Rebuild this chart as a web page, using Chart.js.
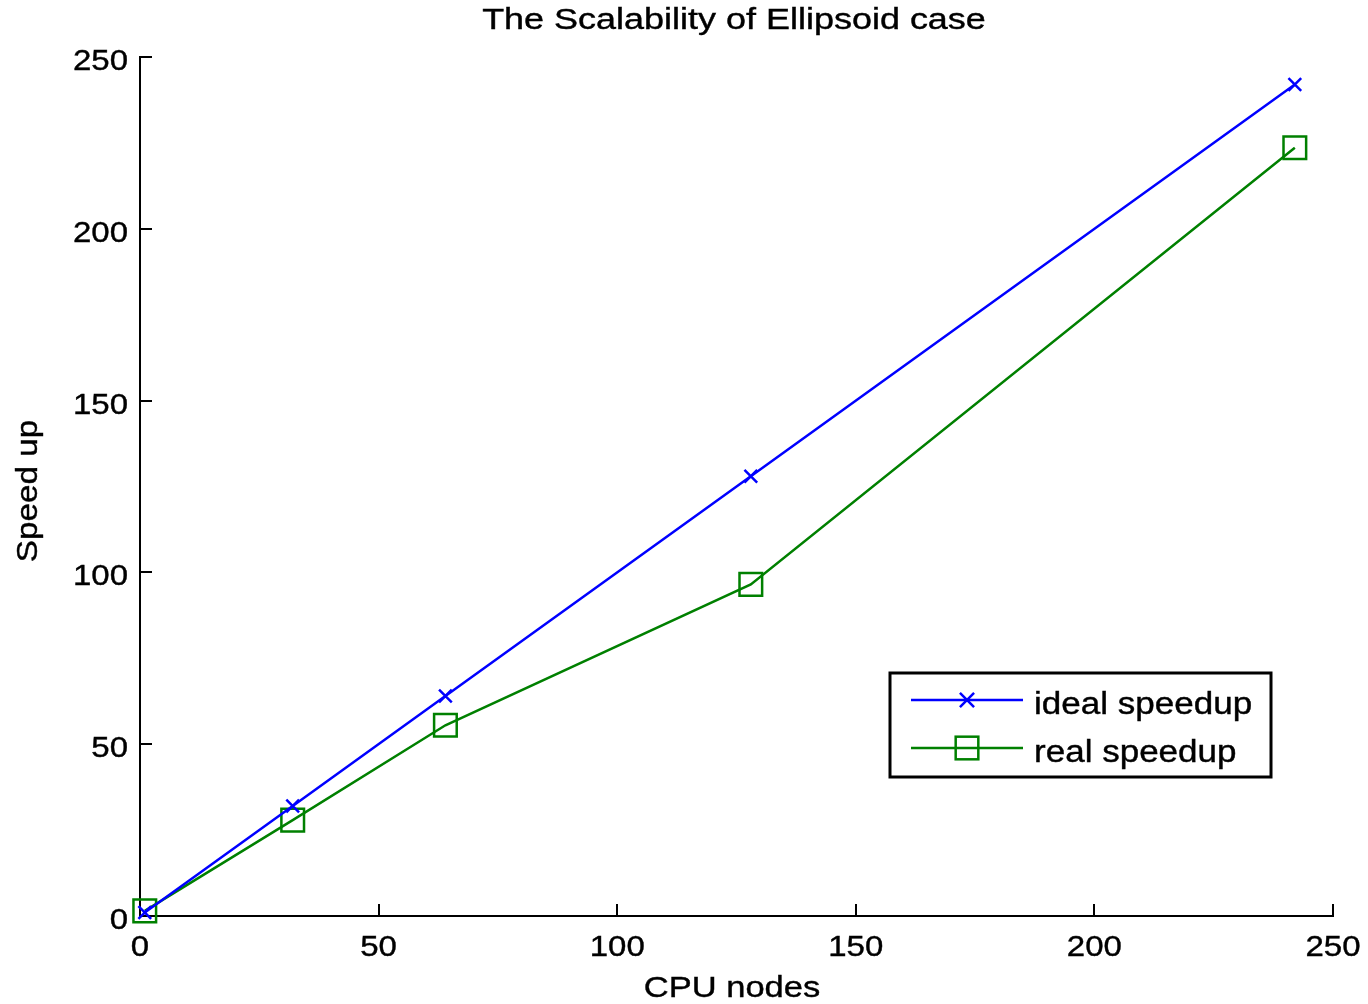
<!DOCTYPE html>
<html>
<head>
<meta charset="utf-8">
<title>The Scalability of Ellipsoid case</title>
<script src="https://cdn.jsdelivr.net/npm/chart.js@4/dist/chart.umd.min.js"></script>
<style>
  html, body { margin: 0; padding: 0; background: #fff; }
  #wrap { width: 1368px; height: 1004px; position: relative; }
</style>
</head>
<body>
<div id="wrap"><canvas id="chart"></canvas></div>
<script>
// Number of CPU nodes used in each run
const cpuNodes = [1, 32, 64, 128, 242];
// Ideal (linear) speedup for those node counts
const idealSpeedup = [1, 32, 64, 128, 242];
// Measured speedup
const realSpeedup = [1.5, 27.9, 55.5, 96.5, 223.6];
// Axis tick values
const xTicks = [0, 50, 100, 150, 200, 250];
const yTicks = [0, 50, 100, 150, 200, 250];

const seriesNames = ['ideal speedup', 'real speedup'];
const BLUE = '#0000ff';
const GREEN = '#008000';
const FONT = '"Liberation Sans", Arial, Helvetica, sans-serif';

function pairs(xs, ys) {
  return xs.map((x, i) => ({ x: x, y: ys[i] }));
}

function drawText(ctx, text, x, y, o) {
  ctx.save();
  ctx.translate(x, y);
  if (o.rotate) ctx.rotate(o.rotate);
  ctx.scale(o.sx || 1, 1);
  ctx.font = o.size + 'px ' + FONT;
  ctx.textAlign = o.align || 'center';
  ctx.textBaseline = 'alphabetic';
  ctx.fillStyle = '#000';
  ctx.strokeStyle = '#000';
  ctx.lineWidth = 0.4;
  ctx.fillText(text, 0, 0);
  ctx.strokeText(text, 0, 0);
  ctx.restore();
}

function drawCross(ctx, x, y, r, color) {
  const d = Math.SQRT1_2 * r;
  ctx.save();
  ctx.strokeStyle = color;
  ctx.lineWidth = 2.5;
  ctx.beginPath();
  ctx.moveTo(x - d, y - d); ctx.lineTo(x + d, y + d);
  ctx.moveTo(x + d, y - d); ctx.lineTo(x - d, y + d);
  ctx.stroke();
  ctx.restore();
}

function drawSquare(ctx, x, y, r, color) {
  const s = Math.SQRT1_2 * r;
  ctx.save();
  ctx.strokeStyle = color;
  ctx.lineWidth = 2.5;
  ctx.strokeRect(x - s, y - s, 2 * s, 2 * s);
  ctx.restore();
}

// Inward tick marks, tick labels, titles and the boxed legend
const decorations = {
  id: 'decorations',
  beforeDatasetsDraw(chart) {
    const ctx = chart.ctx;
    const a = chart.chartArea;
    const xs = chart.scales.x, ys = chart.scales.y;
    ctx.save();
    ctx.strokeStyle = '#000';
    ctx.lineWidth = 2;
    ctx.beginPath();
    xTicks.forEach(v => {
      const px = Math.round(xs.getPixelForValue(v));
      ctx.moveTo(px, a.bottom); ctx.lineTo(px, a.bottom - 12);
    });
    yTicks.forEach(v => {
      const py = Math.round(ys.getPixelForValue(v));
      ctx.moveTo(a.left, py); ctx.lineTo(a.left + 12, py);
    });
    ctx.stroke();
    ctx.restore();
  },
  afterDraw(chart) {
    const ctx = chart.ctx;
    const a = chart.chartArea;
    const xs = chart.scales.x, ys = chart.scales.y;

    xTicks.forEach(v => {
      drawText(ctx, String(v), xs.getPixelForValue(v), a.bottom + 40, { size: 30, sx: 1.1 });
    });
    yTicks.forEach(v => {
      drawText(ctx, String(v), a.left - 12, ys.getPixelForValue(v) + 13, { size: 30, sx: 1.1, align: 'right' });
    });

    drawText(ctx, 'The Scalability of Ellipsoid case', 734, 29, { size: 29, sx: 1.24 });
    drawText(ctx, 'CPU nodes', 732, 997, { size: 30, sx: 1.15 });
    drawText(ctx, 'Speed up', 37, 491, { size: 30, sx: 1.11, rotate: -Math.PI / 2 });

    // legend box
    const lx = 890, ly = 673, lw = 381, lh = 104;
    ctx.save();
    ctx.fillStyle = '#fff';
    ctx.fillRect(lx, ly, lw, lh);
    ctx.strokeStyle = '#000';
    ctx.lineWidth = 3;
    ctx.strokeRect(lx, ly, lw, lh);
    ctx.restore();

    const rows = [
      { y: 700, color: BLUE, marker: 'cross' },
      { y: 748, color: GREEN, marker: 'square' }
    ];
    rows.forEach((row, i) => {
      ctx.save();
      ctx.strokeStyle = row.color;
      ctx.lineWidth = 2.5;
      ctx.beginPath();
      ctx.moveTo(911, row.y); ctx.lineTo(1023, row.y);
      ctx.stroke();
      ctx.restore();
      if (row.marker === 'cross') drawCross(ctx, 967, row.y, 10, row.color);
      else drawSquare(ctx, 967, row.y, 16, row.color);
      drawText(ctx, seriesNames[i], 1034, row.y + 14, { size: 31, sx: 1.13, align: 'left' });
    });
  }
};

new Chart(document.getElementById('chart'), {
  type: 'line',
  data: {
    datasets: [
      {
        label: seriesNames[0],
        data: pairs(cpuNodes, idealSpeedup),
        borderColor: BLUE,
        backgroundColor: 'rgba(0,0,0,0)',
        borderWidth: 2.5,
        pointStyle: 'crossRot',
        pointRadius: 9,
        pointBorderWidth: 2.5,
        pointBorderColor: BLUE,
        pointBackgroundColor: 'rgba(0,0,0,0)',
        tension: 0,
        clip: false
      },
      {
        label: seriesNames[1],
        data: pairs(cpuNodes, realSpeedup),
        borderColor: GREEN,
        backgroundColor: 'rgba(0,0,0,0)',
        borderWidth: 2.5,
        pointStyle: 'rect',
        pointRadius: 16,
        pointBorderWidth: 2.5,
        pointBorderColor: GREEN,
        pointBackgroundColor: 'rgba(0,0,0,0)',
        tension: 0,
        clip: false
      }
    ]
  },
  options: {
    responsive: true,
    maintainAspectRatio: false,
    animation: false,
    events: [],
    layout: { padding: { top: 57, right: 35, left: 0, bottom: 0 } },
    plugins: {
      legend: { display: false },
      title: { display: false },
      tooltip: { enabled: false }
    },
    scales: {
      x: {
        type: 'linear',
        min: 0,
        max: 250,
        ticks: { display: false, stepSize: 50 },
        grid: { display: false },
        border: { display: true, color: '#000', width: 2 },
        afterFit(scale) { scale.height = 88; }
      },
      y: {
        type: 'linear',
        min: 0,
        max: 250,
        ticks: { display: false, stepSize: 50 },
        grid: { display: false },
        border: { display: true, color: '#000', width: 2 },
        afterFit(scale) { scale.width = 140; }
      }
    }
  },
  plugins: [decorations]
});
</script>
</body>
</html>
